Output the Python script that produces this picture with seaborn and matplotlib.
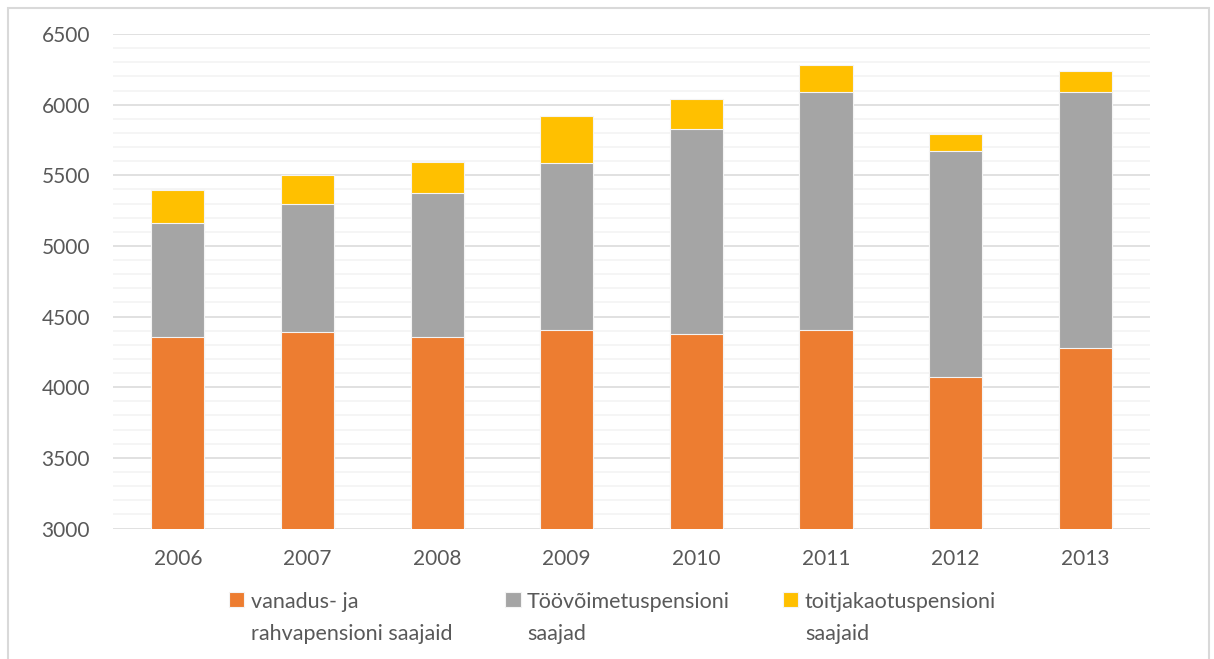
import matplotlib
matplotlib.use("Agg")
import matplotlib.pyplot as plt
from matplotlib.patches import Rectangle
from matplotlib.ticker import MultipleLocator
import numpy as np
import pandas as pd
import seaborn as sns

years = ["2006", "2007", "2008", "2009", "2010", "2011", "2012", "2013"]
vanadus = [4357, 4392, 4357, 4402, 4376, 4404, 4072, 4277]
toovoimetus = [807, 902, 1017, 1183, 1450, 1686, 1601, 1813]
toitjakaotus = [229, 207, 222, 333, 211, 191, 118, 147]

labels = ["vanadus- ja\nrahvapensioni saajaid",
          "Töövõimetuspensioni\nsaajad",
          "toitjakaotuspensioni\nsaajaid"]
colors = ["#ED7D31", "#A5A5A5", "#FFC000"]

sns.set_theme(style="white")
plt.rcParams["font.family"] = ["Lato", "DejaVu Sans"]

df = pd.DataFrame({"year": years, "vanadus": vanadus,
                   "toovoimetus": toovoimetus, "toitjakaotus": toitjakaotus})
df["top1"] = df["vanadus"]
df["top2"] = df["top1"] + df["toovoimetus"]
df["top3"] = df["top2"] + df["toitjakaotus"]

fig = plt.figure(figsize=(12.14, 6.59), dpi=100)
ax = fig.add_axes([0.0931, 0.198, 0.9473 - 0.0931, 0.9484 - 0.198])

# stacked look: tallest first, then overlay the lower cumulative sums
for col, color, label in zip(["top3", "top2", "top1"], colors[::-1], labels[::-1]):
    sns.barplot(data=df, x="year", y=col, color=color, saturation=1, width=0.41,
                edgecolor="#f4f4f4", linewidth=0.8, label=label, ax=ax, zorder=3)

ax.set_ylim(3000, 6500)
ax.set_xlim(-0.5, 7.5)
ax.yaxis.set_major_locator(MultipleLocator(500))
ax.yaxis.set_minor_locator(MultipleLocator(100))
ax.grid(axis="y", which="major", color="#d9d9d9", linewidth=1.1, zorder=0)
ax.grid(axis="y", which="minor", color="#f2f2f2", linewidth=1.1, zorder=0)
ax.set_axisbelow(True)
sns.despine(ax=ax, left=True, bottom=True)
ax.set_xlabel("")
ax.set_ylabel("")
ax.tick_params(axis="y", which="both", length=0, pad=16.5, labelsize=15, labelcolor="#595959")
ax.tick_params(axis="x", length=0, pad=15, labelsize=15, labelcolor="#595959")

handles, labs = ax.get_legend_handles_labels()
if ax.get_legend() is not None:
    ax.get_legend().remove()
leg = fig.legend(handles[::-1], labs[::-1], loc="upper left", bbox_to_anchor=(0.1886, 0.102),
                 ncol=3, frameon=False, fontsize=15.5, handlelength=0.72, handleheight=0.72,
                 handletextpad=0.3, columnspacing=2.45, borderpad=0, borderaxespad=0,
                 labelcolor="#595959")
for t in leg.get_texts():
    t.set_linespacing(1.75)
for col in leg._legend_handle_box.get_children():
    for hp in col.get_children():
        hp.align = "top"

fig.patches.append(Rectangle((8 / 1214, -0.01), 1201 / 1214, 0.988 + 0.01,
                             transform=fig.transFigure, fill=False,
                             edgecolor="#d9d9d9", linewidth=1.5))

fig.savefig("out.png", dpi=100)
